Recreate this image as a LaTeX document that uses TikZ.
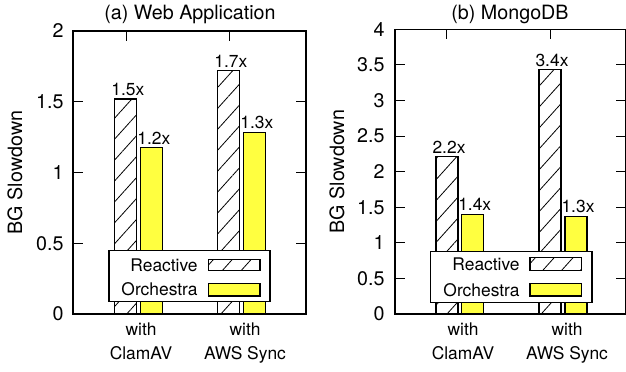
\documentclass[tikz,border=0pt]{standalone}
\usepackage{fontspec}
\setmainfont{TeX Gyre Heros}
\usetikzlibrary{patterns.meta}
\definecolor{orchyellow}{RGB}{255,255,64}
\newcommand{\barwidth}{22}
\tikzset{
    hatchbar/.style={draw, line width=0.6bp, fill=white,
        postaction={pattern={Lines[angle=48, distance=7bp, line width=0.4bp]}}},
    yellowbar/.style={draw, line width=0.6bp, fill=orchyellow},
    frame/.style={draw, line width=0.6bp},
    ticklab/.style={anchor=east, inner sep=0pt},
    vallab/.style={anchor=south, inner sep=1.5bp, font=\smallfont},
    leglab/.style={anchor=east, inner sep=0pt, font=\smallfont},
    xlab/.style={anchor=base, font=\smallfont},
    legbox/.style={draw, line width=0.6bp, fill=white},
}
\newcommand{\smallfont}{\fontsize{8.7bp}{10.5bp}\selectfont}

\begin{document}
\begin{tikzpicture}[x=0.5bp, y=0.5bp, font=\fontsize{9.85bp}{12bp}\selectfont]
    \useasboundingbox (0,0) rectangle (626,371);

    %(a) Web Application
    \begin{scope}[shift={(0,57)}, y=70.75bp]
        %Bars
        \foreach \xl/\v/\lab [count=\i] in {114.3/1.52/1.5x, 217.3/1.72/1.7x}{
            \draw[hatchbar] (\xl,0) rectangle ++(\barwidth,\v);
            \node[vallab] (webreact\i) at (\xl+13.5,\v) {\lab};
        };
        \foreach \xl/\v/\lab [count=\i] in {140.3/1.175/1.2x, 243.3/1.285/1.3x}{
            \draw[yellowbar] (\xl,0) rectangle ++(\barwidth,\v);
            \node[vallab] (weborch\i) at (\xl+13.5,\v) {\lab};
        };
        %Axes
        \draw[frame] (73,0) rectangle (306,2);
        \foreach \v [count=\i] in {0,0.5,1,1.5,2}{
            \draw[line width=0.5bp] (73,\v) -- ++(10,0);
            \draw[line width=0.5bp] (306,\v) -- ++(-10,0);
            \node[ticklab] (webtick\i) at (64,\v) {\v};
        };
        \foreach \x in {126,229.3}{
            \draw[line width=0.5bp] (\x,2) -- ++(0pt,-5bp);
        };
        \node[rotate=90] (webylab) at (15,1) {BG Slowdown};
    \end{scope}
    \node[anchor=base] (webtitle) at (190,351.5) {(a) Web Application};
    \node[xlab] (webwith1) at (141,36) {with};
    \node[xlab] (webclam) at (141,11.7) {ClamAV};
    \node[xlab] (webwith2) at (245,36) {with};
    \node[xlab] (webaws) at (245,11.7) {AWS Sync};
    %Legend
    \draw[legbox] (109,69.3) rectangle (270,120.3);
    \node[leglab] (webleg1) at (198,105.7) {Reactive};
    \draw[hatchbar] (208.3,100.3) rectangle (260,111.7);
    \node[leglab] (webleg2) at (198,81.8) {Orchestra};
    \draw[yellowbar] (208.3,75) rectangle (260,87.7);

    %(b) MongoDB
    \begin{scope}[shift={(0,57)}, y=35.6bp]
        %Bars
        \foreach \xl/\v/\lab [count=\i] in {436/2.21/2.2x, 539/3.43/3.4x}{
            \draw[hatchbar] (\xl,0) rectangle ++(\barwidth,\v);
            \node[vallab] (mongoreact\i) at (\xl+13,\v) {\lab};
        };
        \foreach \xl/\v/\lab [count=\i] in {461.7/1.40/1.4x, 565/1.37/1.3x}{
            \draw[yellowbar] (\xl,0) rectangle ++(\barwidth,\v);
            \node[vallab] (mongoorch\i) at (\xl+13,\v) {\lab};
        };
        %Axes
        \draw[frame] (395,0) rectangle (625.5,4);
        \foreach \v [count=\i] in {0,0.5,1,1.5,2,2.5,3,3.5,4}{
            \draw[line width=0.5bp] (395,\v) -- ++(10,0);
            \draw[line width=0.5bp] (625.5,\v) -- ++(-10,0);
            \node[ticklab] (mongotick\i) at (385,\v) {\v};
        };
        \foreach \x in {446.7,550}{
            \draw[line width=0.5bp] (\x,4) -- ++(0pt,-5bp);
        };
        \node[rotate=90] (mongoylab) at (337,2) {BG Slowdown};
    \end{scope}
    \node[anchor=base] (mongotitle) at (510,351.5) {(b) MongoDB};
    \node[xlab] (mongowith1) at (463,36) {with};
    \node[xlab] (mongoclam) at (463,11.7) {ClamAV};
    \node[xlab] (mongowith2) at (567,36) {with};
    \node[xlab] (mongoaws) at (567,11.7) {AWS Sync};
    %Legend
    \draw[legbox] (430.7,68.7) rectangle (592,119.3);
    \node[leglab] (mongoleg1) at (520,106.5) {Reactive};
    \draw[hatchbar] (530,100.3) rectangle (581.7,113.3);
    \node[leglab] (mongoleg2) at (520,81) {Orchestra};
    \draw[yellowbar] (530,75) rectangle (581.7,87.7);
\end{tikzpicture}
\end{document}
